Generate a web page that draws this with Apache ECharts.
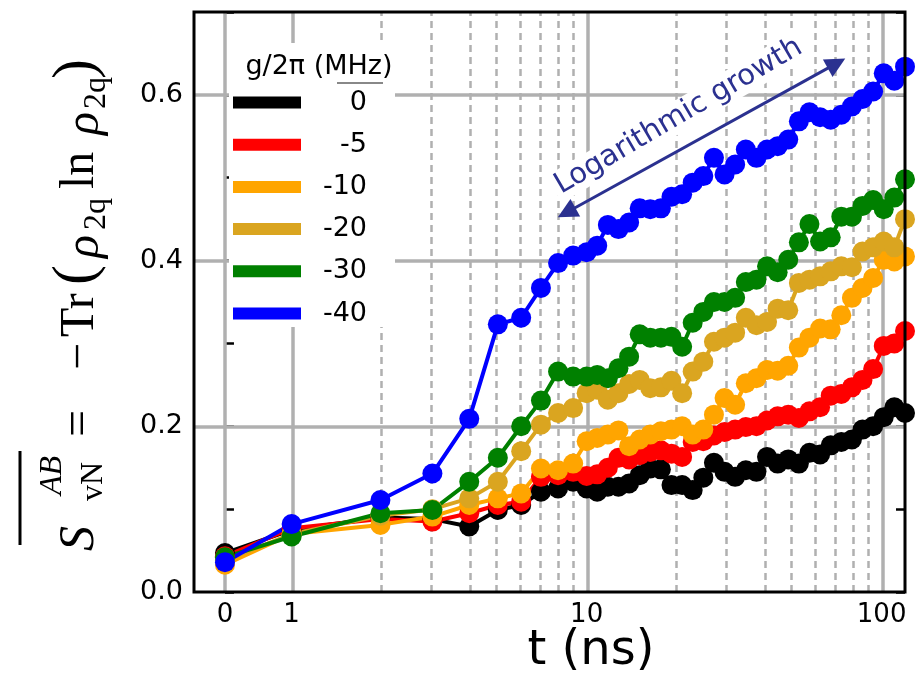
<!DOCTYPE html>
<html>
<head>
<meta charset="utf-8">
<script src="https://cdn.jsdelivr.net/npm/echarts@6/dist/echarts.min.js"></script>
<style>
  html, body { margin: 0; padding: 0; background: #fff; }
  #chart { width: 916px; height: 687px; }
</style>
</head>
<body>
<div id="chart"></div>
<script>
// Sampling times (ns): unit steps up to 9 ns, then log-spaced up to 120 ns
const timesNs = [0, 1, 2, 3, 4, 5, 6, 7, 8, 9,
  10, 10.86, 11.8, 12.82, 13.93, 15.13, 16.43, 17.85, 19.39, 21.07,
  22.88, 24.86, 27.01, 29.34, 31.87, 34.64, 37.63, 40.88, 44.41, 48.24,
  52.41, 56.93, 61.85, 67.19, 72.99, 79.29, 86.13, 93.57, 101.65, 110.42, 120];

// Coupling strengths g/2pi (MHz) and their colours
const couplings = ['0', '-5', '-10', '-20', '-30', '-40'];
const colors = ['#000000', '#ff0000', '#ffa500', '#daa520', '#008000', '#0000ff'];

// Averaged von Neumann entropy for each coupling
const entropyG0 = [0.047, 0.075, 0.09, 0.088, 0.079, 0.099, 0.105, 0.121, 0.125, 0.133,
  0.125, 0.121, 0.127, 0.127, 0.131, 0.141, 0.149, 0.148, 0.129, 0.129,
  0.123, 0.138, 0.156, 0.145, 0.139, 0.147, 0.145, 0.163, 0.155, 0.16,
  0.155, 0.168, 0.166, 0.177, 0.181, 0.184, 0.196, 0.2, 0.211, 0.223, 0.216];
const entropyG5 = [0.043, 0.077, 0.088, 0.085, 0.095, 0.105, 0.109, 0.139, 0.141, 0.145,
  0.14, 0.142, 0.15, 0.162, 0.16, 0.165, 0.169, 0.171, 0.167, 0.163,
  0.181, 0.182, 0.189, 0.193, 0.196, 0.199, 0.2, 0.207, 0.212, 0.214,
  0.21, 0.218, 0.223, 0.237, 0.239, 0.247, 0.256, 0.269, 0.297, 0.3, 0.315];
const entropyG10 = [0.033, 0.07, 0.081, 0.091, 0.105, 0.113, 0.119, 0.149, 0.147, 0.155,
  0.182, 0.186, 0.19, 0.195, 0.176, 0.184, 0.19, 0.194, 0.196, 0.2,
  0.19, 0.196, 0.214, 0.234, 0.226, 0.252, 0.258, 0.268, 0.267, 0.273,
  0.295, 0.307, 0.318, 0.317, 0.334, 0.355, 0.367, 0.379, 0.401, 0.399, 0.405];
const entropyG20 = [0.038, 0.07, 0.092, 0.1, 0.113, 0.133, 0.17, 0.202, 0.216, 0.222,
  0.24, 0.244, 0.232, 0.24, 0.251, 0.256, 0.246, 0.247, 0.255, 0.24,
  0.266, 0.278, 0.302, 0.307, 0.313, 0.331, 0.322, 0.326, 0.342, 0.34,
  0.373, 0.377, 0.381, 0.387, 0.393, 0.392, 0.411, 0.416, 0.423, 0.416, 0.45];
const entropyG30 = [0.042, 0.067, 0.095, 0.099, 0.133, 0.162, 0.2, 0.231, 0.266, 0.26,
  0.26, 0.262, 0.258, 0.27, 0.284, 0.311, 0.307, 0.307, 0.308, 0.296,
  0.325, 0.338, 0.35, 0.35, 0.355, 0.374, 0.377, 0.393, 0.386, 0.401,
  0.422, 0.444, 0.423, 0.428, 0.453, 0.453, 0.466, 0.473, 0.462, 0.476, 0.498];
const entropyG40 = [0.036, 0.082, 0.111, 0.143, 0.209, 0.323, 0.331, 0.367, 0.397, 0.406,
  0.41, 0.418, 0.443, 0.438, 0.446, 0.463, 0.462, 0.463, 0.477, 0.48,
  0.494, 0.502, 0.524, 0.504, 0.516, 0.534, 0.524, 0.534, 0.538, 0.546,
  0.568, 0.579, 0.573, 0.57, 0.576, 0.586, 0.595, 0.604, 0.626, 0.617, 0.634];
const entropySeries = [entropyG0, entropyG5, entropyG10, entropyG20, entropyG30, entropyG40];

// Axis ticks
const xMajorTicks = [0, 1, 10, 100];
const xMajorLabels = ['0', '1', '10', '100'];
const xMinorTicks = [2, 3, 4, 5, 6, 7, 8, 9, 20, 30, 40, 50, 60, 70, 80, 90];
const yGridValues = [0.2, 0.4, 0.6];
const xRange = [-0.1, 120];

// Arrow annotation end points (t in ns, entropy) and label anchor
const arrowFrom = [8.55, 0.458];
const arrowTo = [70.3, 0.638];
const noteAnchor = [20.5, 0.574];

// Symmetric-log time axis: linear on [0, 1], log10 beyond
const LIN = 0.226;
function axisPos(t) {
  if (t <= 1) return t * LIN;
  return LIN + Math.log10(t);
}

const GRID_GRAY = '#b0b0b0';
const NAVY = '#2b3190';
const SANS = '"DejaVu Sans", sans-serif';
const SERIF = '"Liberation Serif", "DejaVu Serif", serif';

const chart = echarts.init(document.getElementById('chart'), null, { renderer: 'canvas' });

const gridLines = []
  .concat(xMajorTicks.map(t => ({ xAxis: axisPos(t), lineStyle: { color: GRID_GRAY, width: 3.5, type: 'solid' } })))
  .concat(xMinorTicks.map(t => ({ xAxis: axisPos(t), lineStyle: { color: GRID_GRAY, width: 2.5, type: [7, 5] } })))
  .concat(yGridValues.map(v => ({ yAxis: v, lineStyle: { color: GRID_GRAY, width: 3.5, type: 'solid' } })));

const dataSeries = couplings.map((name, i) => ({
  name: name,
  type: 'line',
  z: 2,
  silent: true,
  data: timesNs.map((t, j) => [axisPos(t), entropySeries[i][j]]),
  symbol: 'circle',
  symbolSize: 20,
  showSymbol: true,
  lineStyle: { color: colors[i], width: 4 },
  itemStyle: { color: colors[i], borderWidth: 0 },
  emphasis: { disabled: true },
  clip: true
}));

const majorLabelPos = xMajorTicks.map(axisPos);

// y-axis title pieces, laid out along the (rotated) text line
const titlePieces = [
  { text: 'S', x: 0, y: 0, font: 'italic 50px ' + SERIF },
  { text: 'AB', x: 56, y: -27, font: 'italic 32px ' + SERIF },
  { text: 'vN', x: 50, y: 14, font: '32px ' + SERIF },
  { text: '=', x: 114, y: 0, font: '48px ' + SERIF },
  { text: '\u2212', x: 181, y: 0, font: '48px ' + SERIF },
  { text: 'Tr', x: 214, y: 0, font: '48px ' + SERIF },
  { text: '(', x: 266, y: -3, font: '60px ' + SERIF },
  { text: '\u03c1', x: 293, y: 5, font: 'italic 48px ' + SERIF },
  { text: '2q', x: 321, y: 17, font: '32px ' + SERIF },
  { text: 'ln', x: 362, y: 0, font: '48px ' + SERIF },
  { text: '\u03c1', x: 416, y: 5, font: 'italic 48px ' + SERIF },
  { text: '2q', x: 442, y: 17, font: '32px ' + SERIF },
  { text: ')', x: 472, y: -3, font: '60px ' + SERIF }
];

const option = {
  animation: false,
  backgroundColor: '#ffffff',
  grid: {
    left: 194, right: 11, top: 12, bottom: 95,
    show: true, z: 5,
    backgroundColor: 'transparent',
    borderColor: '#000', borderWidth: 3
  },
  xAxis: {
    type: 'value',
    min: axisPos(0) - 0.105,
    max: axisPos(xRange[1]),
    axisLine: { show: false },
    axisTick: { show: false },
    splitLine: { show: false },
    axisLabel: {
      customValues: majorLabelPos,
      margin: 10,
      color: '#000',
      fontSize: 26,
      fontFamily: SANS,
      formatter: function (v) {
        let best = 0;
        for (let i = 1; i < majorLabelPos.length; i++) {
          if (Math.abs(majorLabelPos[i] - v) < Math.abs(majorLabelPos[best] - v)) best = i;
        }
        return xMajorLabels[best];
      }
    }
  },
  yAxis: [{
    type: 'value',
    min: 0, max: 0.7, interval: 0.1,
    axisLine: { show: false },
    axisTick: { show: true, inside: true, length: 9, lineStyle: { color: '#000', width: 2.5 } },
    splitLine: { show: false },
    axisLabel: {
      margin: 11,
      color: '#000',
      fontSize: 27,
      fontFamily: SANS,
      formatter: function (v) {
        const k = Math.round(v * 10);
        return k % 2 === 0 ? (k / 10).toFixed(1) : '';
      }
    }
  }, {
    type: 'value',
    position: 'right',
    min: 0, max: 0.7, interval: 0.1,
    axisLine: { show: false },
    axisTick: { show: true, inside: true, length: 9, lineStyle: { color: '#000', width: 2.5 } },
    splitLine: { show: false },
    axisLabel: { show: false }
  }],
  legend: {
    data: couplings,
    orient: 'vertical',
    left: 233,
    top: 89,
    padding: 0,
    itemGap: 15.2,
    itemWidth: 68,
    itemHeight: 12,
    icon: 'rect',
    selectedMode: false,
    z: 6,
    formatter: name => '{v|' + name + '}',
    textStyle: {
      color: '#000',
      rich: {
        v: { width: 61, align: 'right', fontSize: 27, fontFamily: SANS, color: '#000' }
      }
    }
  },
  graphic: [
    {
      id: 'legendBox', type: 'rect', z: 1.5, silent: true,
      shape: { x: 229, y: 43, width: 166, height: 284 },
      style: { fill: '#ffffff' }
    },
    {
      id: 'legendTitle', type: 'text', z: 6, silent: true,
      x: 319, y: 67,
      style: { text: 'g/2\u03c0 (MHz)', font: '27px ' + SANS, fill: '#000', align: 'center', verticalAlign: 'middle' }
    },
    {
      id: 'legendTitleRule', type: 'line', z: 6, silent: true,
      shape: { x1: 337, y1: 83, x2: 383, y2: 83 },
      style: { stroke: '#888', lineWidth: 2 }
    },
    {
      id: 'xName', type: 'text', z: 6, silent: true,
      x: 591, y: 652,
      style: { text: 't (ns)', font: '48px ' + SANS, fill: '#000', align: 'center', verticalAlign: 'middle' }
    },
    {
      id: 'yName', type: 'group', z: 6, silent: true,
      x: 80, y: 551, rotation: Math.PI / 2,
      children: titlePieces.map((p, i) => ({
        type: 'text', id: 'yPiece' + i, x: p.x, y: p.y,
        style: { text: p.text, font: p.font, fill: '#000', align: 'left', verticalAlign: 'middle' }
      })).concat([{
        type: 'line', id: 'yOverline',
        shape: { x1: 6, y1: -60, x2: 100, y2: -60 },
        style: { stroke: '#000', lineWidth: 3 }
      }])
    }
  ],
  series: [
    {
      type: 'line', z: 1, silent: true, data: [],
      markLine: {
        z: 1,
        silent: true, symbol: 'none', animation: false,
        label: { show: false },
        emphasis: { disabled: true },
        data: gridLines
      }
    },
    {
      type: 'line', z: 3, silent: true, data: [],
      markLine: {
        z: 3,
        silent: true, animation: false,
        symbol: ['triangle', 'triangle'],
        symbolSize: 20,
        label: { show: false },
        emphasis: { disabled: true },
        lineStyle: { color: NAVY, width: 3, type: 'solid' },
        itemStyle: { color: NAVY },
        data: [[
          { coord: [axisPos(arrowFrom[0]), arrowFrom[1]] },
          { coord: [axisPos(arrowTo[0]), arrowTo[1]] }
        ]]
      }
    }
  ].concat(dataSeries)
};

chart.setOption(option);

// Place the rotated annotation text parallel to the arrow
const pA = chart.convertToPixel({ xAxisIndex: 0, yAxisIndex: 0 }, [axisPos(arrowFrom[0]), arrowFrom[1]]);
const pB = chart.convertToPixel({ xAxisIndex: 0, yAxisIndex: 0 }, [axisPos(arrowTo[0]), arrowTo[1]]);
const pN = chart.convertToPixel({ xAxisIndex: 0, yAxisIndex: 0 }, [axisPos(noteAnchor[0]), noteAnchor[1]]);
const angle = Math.atan2(pA[1] - pB[1], pB[0] - pA[0]) + 0.025;

chart.setOption({
  graphic: [{
    id: 'note', type: 'text', z: 4, silent: true,
    x: pN[0], y: pN[1], rotation: angle,
    style: {
      text: 'Logarithmic growth', font: '29px ' + SANS, fill: NAVY,
      align: 'center', verticalAlign: 'middle',
      backgroundColor: '#ffffff', padding: [1, 4]
    }
  }]
});
</script>
</body>
</html>
